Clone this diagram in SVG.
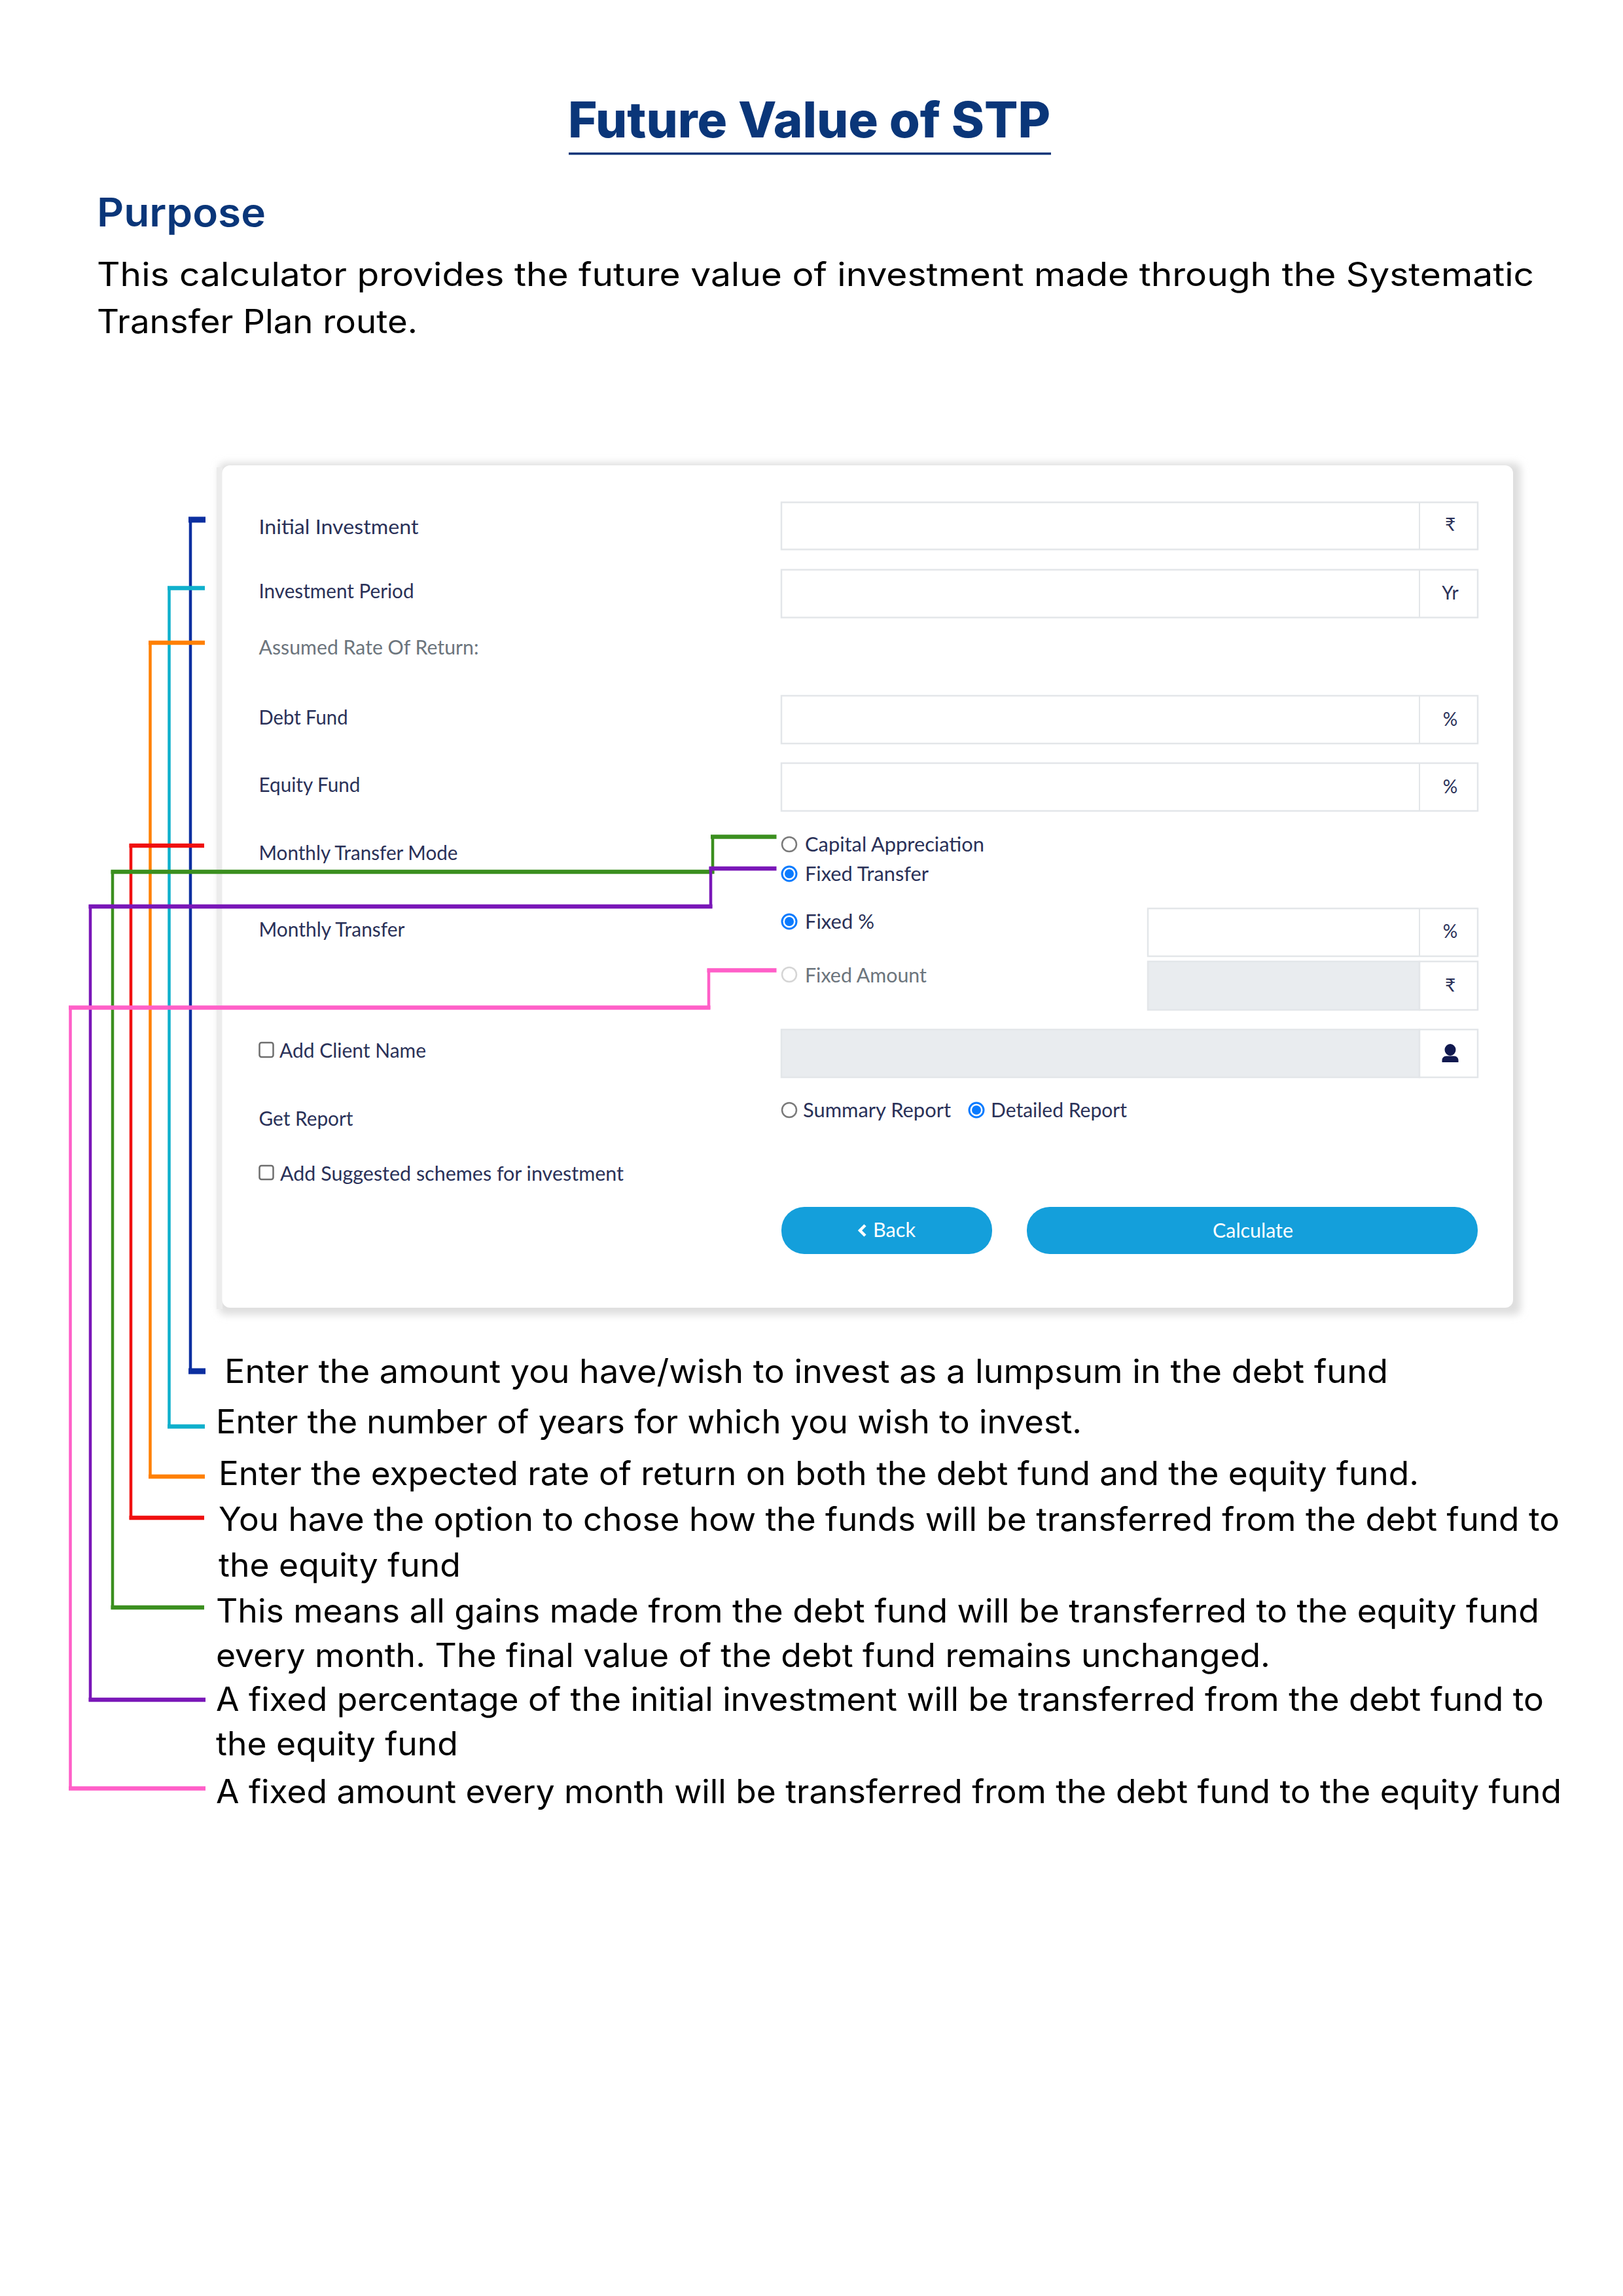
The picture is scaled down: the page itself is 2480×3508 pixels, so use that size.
<svg xmlns="http://www.w3.org/2000/svg" width="2480" height="3508" viewBox="0 0 2480 3508">
<style>
text{font-family:"Inter","Liberation Sans",sans-serif;fill:#000}
.title{font-size:75px;font-weight:800;fill:#0a3679}
.head{font-size:60px;font-weight:600;fill:#0a3679}
.body{font-size:50px;font-weight:400}
.ui{font-family:"Lato","Liberation Sans",sans-serif;font-size:30px;fill:#2a3158}
.muted{fill:#6c757d}
.add{font-family:"Lato","DejaVu Sans",sans-serif;font-size:28px;fill:#2a3158;text-anchor:middle}
.box{fill:#fff;stroke:#e3e6e9;stroke-width:2.5}
.dis{fill:#e9ecef;stroke:#e3e6e9;stroke-width:2.5}
.sep{stroke:#e3e6e9;stroke-width:2}
.radio{fill:#fff;stroke:#7a7a7a;stroke-width:2.5}
.on{fill:#fff;stroke:#0a7bff;stroke-width:3}
.dot{fill:#0a7bff}
.off{fill:#fff;stroke:#d5d5d5;stroke-width:2.5}
.chk{fill:#fff;stroke:#6e6e6e;stroke-width:2.5}
.btn{fill:#149fdb}
.v{fill:none;stroke-width:4.5;stroke-linecap:square}
.h{fill:none;stroke-width:6.5}
</style>
<defs>
<filter id="soft" x="-5%" y="-5%" width="110%" height="110%"><feGaussianBlur stdDeviation="6"/></filter>
</defs>
<rect width="2480" height="3508" fill="#fff"/>

<g id="title">
<text class="title" x="868" y="210" textLength="737" lengthAdjust="spacingAndGlyphs">Future Value of STP</text>
<rect x="869" y="233" width="737" height="3.500" fill="#0a3679"/>
</g>
<g id="purpose">
<text class="head" x="148" y="346" textLength="258" lengthAdjust="spacingAndGlyphs">Purpose</text>
<text class="body" x="148" y="437" textLength="2196" lengthAdjust="spacingAndGlyphs">This calculator provides the future value of investment made through the Systematic</text>
<text class="body" x="148" y="509" textLength="490" lengthAdjust="spacingAndGlyphs">Transfer Plan route.</text>
</g>

<g id="card">
<rect x="334" y="707" width="1990" height="1302" rx="10" fill="#dedede" filter="url(#soft)"/>
<rect x="331" y="714" width="9" height="1286" fill="#ececec"/>
<rect x="339.500" y="711" width="1972.500" height="1287" rx="12" fill="#fff"/>
</g>

<g id="field-initial-investment">
<text class="ui" x="395.500" y="816" textLength="244" lengthAdjust="spacingAndGlyphs">Initial Investment</text>
<rect class="box" x="1194" y="767.500" width="1064" height="72"/><line class="sep" x1="2169" y1="767.500" x2="2169" y2="839.500"/>
<text class="add" x="2216" y="811">₹</text>
</g>
<g id="field-investment-period">
<text class="ui" x="395.500" y="914" textLength="237" lengthAdjust="spacingAndGlyphs">Investment Period</text>
<rect class="box" x="1194" y="870.500" width="1064" height="73"/><line class="sep" x1="2169" y1="870.500" x2="2169" y2="943.500"/>
<text class="add" x="2216" y="916">Yr</text>
</g>
<g id="label-assumed-rate">
<text class="ui muted" x="395.500" y="1000" textLength="336" lengthAdjust="spacingAndGlyphs">Assumed Rate Of Return:</text>
</g>
<g id="field-debt-fund">
<text class="ui" x="395.500" y="1107" textLength="136" lengthAdjust="spacingAndGlyphs">Debt Fund</text>
<rect class="box" x="1194" y="1063" width="1064" height="73"/><line class="sep" x1="2169" y1="1063" x2="2169" y2="1136"/>
<text class="add" x="2216" y="1109">%</text>
</g>
<g id="field-equity-fund">
<text class="ui" x="395.500" y="1210" textLength="155" lengthAdjust="spacingAndGlyphs">Equity Fund</text>
<rect class="box" x="1194" y="1166" width="1064" height="73"/><line class="sep" x1="2169" y1="1166" x2="2169" y2="1239"/>
<text class="add" x="2216" y="1212">%</text>
</g>
<g id="field-monthly-transfer-mode">
<text class="ui" x="395.500" y="1314" textLength="304" lengthAdjust="spacingAndGlyphs">Monthly Transfer Mode</text>
<circle class="radio" cx="1206" cy="1290" r="11"/>
<text class="ui" x="1230" y="1301" textLength="274" lengthAdjust="spacingAndGlyphs">Capital Appreciation</text>
<circle class="on" cx="1206" cy="1335" r="11"/><circle class="dot" cx="1206" cy="1335" r="7"/>
<text class="ui" x="1230" y="1346" textLength="189" lengthAdjust="spacingAndGlyphs">Fixed Transfer</text>
</g>
<g id="field-monthly-transfer">
<text class="ui" x="395.500" y="1431" textLength="223" lengthAdjust="spacingAndGlyphs">Monthly Transfer</text>
<circle class="on" cx="1206" cy="1408" r="11"/><circle class="dot" cx="1206" cy="1408" r="7"/>
<text class="ui" x="1230" y="1419" textLength="106" lengthAdjust="spacingAndGlyphs">Fixed %</text>
<rect class="box" x="1754" y="1388" width="504" height="73"/><line class="sep" x1="2169" y1="1388" x2="2169" y2="1461"/>
<text class="add" x="2216" y="1433">%</text>
<circle class="off" cx="1206" cy="1489" r="11"/>
<text class="ui muted" x="1230" y="1501" textLength="186" lengthAdjust="spacingAndGlyphs">Fixed Amount</text>
<rect class="dis" x="1754" y="1469" width="415" height="74"/>
<rect class="box" x="2169" y="1469" width="89" height="74"/>
<text class="add" x="2216" y="1515">₹</text>
</g>
<g id="field-client-name">
<rect class="chk" x="396.500" y="1593" width="21" height="22" rx="3"/>
<text class="ui" x="427" y="1616" textLength="224" lengthAdjust="spacingAndGlyphs">Add Client Name</text>
<rect class="dis" x="1194" y="1573" width="975" height="73"/>
<rect class="box" x="2169" y="1573" width="89" height="73"/>
<path d="M2216 1595a8.500 9 0 1 1 0 18a8.500 9 0 1 1 0-18zM2210 1613.500h12c4 0 6.500 3 6.500 6.500v3h-25v-3c0-3.500 2.500-6.500 6.500-6.500z" fill="#11194f"/>
</g>
<g id="field-get-report">
<text class="ui" x="395.500" y="1720" textLength="144" lengthAdjust="spacingAndGlyphs">Get Report</text>
<circle class="radio" cx="1206" cy="1696" r="11"/>
<text class="ui" x="1227" y="1707" textLength="226" lengthAdjust="spacingAndGlyphs">Summary Report</text>
<circle class="on" cx="1492" cy="1696" r="11"/><circle class="dot" cx="1492" cy="1696" r="7"/>
<text class="ui" x="1514" y="1707" textLength="208" lengthAdjust="spacingAndGlyphs">Detailed Report</text>
</g>
<g id="field-suggested-schemes">
<rect class="chk" x="396.500" y="1781" width="21" height="21" rx="3"/>
<text class="ui" x="428" y="1804" textLength="525" lengthAdjust="spacingAndGlyphs">Add Suggested schemes for investment</text>
</g>
<g id="btn-back">
<rect class="btn" x="1194" y="1844" width="322" height="72" rx="35"/>
<path d="M1322 1872l-8 8l8 8" fill="none" stroke="#fff" stroke-width="4.500"/>
<text class="ui" x="1334" y="1890" textLength="65" lengthAdjust="spacingAndGlyphs" style="fill:#fff">Back</text>
</g>
<g id="btn-calculate">
<rect class="btn" x="1569" y="1844" width="689" height="72" rx="35"/>
<text class="ui" x="1853" y="1891" textLength="123" lengthAdjust="spacingAndGlyphs" style="fill:#fff">Calculate</text>
</g>

<g id="connectors">
<g id="conn-blue" stroke="#0b2fa0"><path class="v" d="M291 794V2095"/><path class="h" d="M288 794H314M288 2095H314" style="stroke-width:9"/></g>
<g id="conn-cyan" stroke="#0fb0cc"><path class="v" d="M258.500 898.500V2179.500"/><path class="h" d="M256 898.500H313M256 2179.500H313"/></g>
<g id="conn-orange" stroke="#ff8000"><path class="v" d="M229.500 982V2256"/><path class="h" d="M227 982H313M227 2256H313"/></g>
<g id="conn-red" stroke="#f01010"><path class="v" d="M200 1292V2319"/><path class="h" d="M197.500 1292H312M197.500 2319H312"/></g>
<g id="conn-green" stroke="#3b8f1f"><path class="v" d="M172 1332V2456M1089 1278.500V1332"/><path class="h" d="M1186.500 1278.500H1086M1091.500 1332H169.500M169.500 2456H312"/></g>
<g id="conn-purple" stroke="#7a17b8"><path class="v" d="M138 1385V2597M1086 1327V1385"/><path class="h" d="M1186.500 1327H1083.500M1088.500 1385H135.500M135.500 2597H314"/></g>
<g id="conn-pink" stroke="#ff5fc8"><path class="v" d="M107.500 1539.500V2732.500M1083 1482.500V1539.500"/><path class="h" d="M1186.500 1482.500H1080.500M1085.500 1539.500H105M105 2732.500H314"/></g>
</g>

<g id="note-initial-investment"><text class="body" x="343" y="2113" textLength="1778" lengthAdjust="spacingAndGlyphs">Enter the amount you have/wish to invest as a lumpsum in the debt fund</text></g>
<g id="note-investment-period"><text class="body" x="330" y="2190" textLength="1323" lengthAdjust="spacingAndGlyphs">Enter the number of years for which you wish to invest.</text></g>
<g id="note-rate-of-return"><text class="body" x="334" y="2269" textLength="1834" lengthAdjust="spacingAndGlyphs">Enter the expected rate of return on both the debt fund and the equity fund.</text></g>
<g id="note-transfer-mode">
<text class="body" x="334" y="2339" textLength="2049" lengthAdjust="spacingAndGlyphs">You have the option to chose how the funds will be transferred from the debt fund to</text>
<text class="body" x="334" y="2409" textLength="370" lengthAdjust="spacingAndGlyphs">the equity fund</text>
</g>
<g id="note-capital-appreciation">
<text class="body" x="330" y="2479" textLength="2022" lengthAdjust="spacingAndGlyphs">This means all gains made from the debt fund will be transferred to the equity fund</text>
<text class="body" x="330" y="2547" textLength="1611" lengthAdjust="spacingAndGlyphs">every month. The final value of the debt fund remains unchanged.</text>
</g>
<g id="note-fixed-percent">
<text class="body" x="330" y="2614" textLength="2029" lengthAdjust="spacingAndGlyphs">A fixed percentage of the initial investment will be transferred from the debt fund to</text>
<text class="body" x="330" y="2682" textLength="370" lengthAdjust="spacingAndGlyphs">the equity fund</text>
</g>
<g id="note-fixed-amount"><text class="body" x="330" y="2755" textLength="2056" lengthAdjust="spacingAndGlyphs">A fixed amount every month will be transferred from the debt fund to the equity fund</text></g>
</svg>
